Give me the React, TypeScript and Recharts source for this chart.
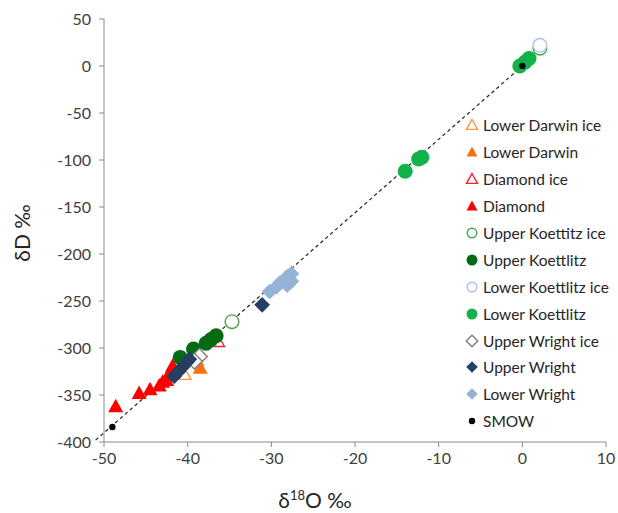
import React from "react";
import { ScatterChart, Scatter, XAxis, YAxis, ReferenceLine } from "recharts";

const xTicks = [-50, -40, -30, -20, -10, 0, 10];
const yTicks = [50, 0, -50, -100, -150, -200, -250, -300, -350, -400];

const lowerDarwinIce = [
  { x: -40.5, y: -327 },
  { x: -39.0, y: -312 },
];
const lowerDarwin = [{ x: -38.5, y: -321 }];
const diamondIce = [{ x: -36.5, y: -292 }];
const diamond = [
  { x: -48.6, y: -362 },
  { x: -45.8, y: -348 },
  { x: -44.5, y: -344 },
  { x: -43.4, y: -340 },
  { x: -43.0, y: -336 },
  { x: -42.5, y: -334 },
  { x: -42.1, y: -325 },
  { x: -41.8, y: -319 },
];
const upperKoettitzIce = [
  { x: -34.7, y: -272 },
  { x: 2.1, y: 19 },
];
const upperKoettlitz = [
  { x: -40.9, y: -310 },
  { x: -39.3, y: -301 },
  { x: -37.8, y: -295 },
  { x: -37.2, y: -291 },
  { x: -36.6, y: -287 },
];
const lowerKoettlitzIce = [{ x: 2.1, y: 22 }];
const lowerKoettlitz = [
  { x: -14.0, y: -112 },
  { x: -12.4, y: -99 },
  { x: -12.0, y: -97 },
  { x: -0.3, y: 0 },
  { x: 0.3, y: 4 },
  { x: 0.8, y: 8 },
];
const upperWrightIce = [
  { x: -38.6, y: -309 },
  { x: -39.2, y: -314 },
];
const upperWright = [
  { x: -41.6, y: -330 },
  { x: -41.1, y: -325 },
  { x: -40.6, y: -320 },
  { x: -40.1, y: -315 },
  { x: -39.8, y: -312 },
  { x: -31.1, y: -254 },
];
const lowerWright = [
  { x: -30.2, y: -240 },
  { x: -29.4, y: -235 },
  { x: -29.0, y: -231 },
  { x: -28.1, y: -233 },
  { x: -27.6, y: -229 },
  { x: -27.6, y: -221 },
  { x: -28.1, y: -224 },
];
const smow = [
  { x: 0, y: 0 },
  { x: -49, y: -384 },
];

// meteoric water line end points
const mwl = [
  { x: -51, y: -398 },
  { x: 0, y: 0 },
];

type Kind = "tri" | "circle" | "diamond" | "dot";

const series: { name: string; data: { x: number; y: number }[]; kind: Kind; color: string; open: boolean }[] = [
  { name: "Lower Darwin ice", data: lowerDarwinIce, kind: "tri", color: "#F79646", open: true },
  { name: "Lower Darwin", data: lowerDarwin, kind: "tri", color: "#F5730F", open: false },
  { name: "Diamond ice", data: diamondIce, kind: "tri", color: "#FF2020", open: true },
  { name: "Diamond", data: diamond, kind: "tri", color: "#FF0000", open: false },
  { name: "Upper Koettitz ice", data: upperKoettitzIce, kind: "circle", color: "#4EA24E", open: true },
  { name: "Upper Koettlitz", data: upperKoettlitz, kind: "circle", color: "#066A12", open: false },
  { name: "Lower Koettlitz ice", data: lowerKoettlitzIce, kind: "circle", color: "#A9C3EA", open: true },
  { name: "Lower Koettlitz", data: lowerKoettlitz, kind: "circle", color: "#12B24A", open: false },
  { name: "Upper Wright ice", data: upperWrightIce, kind: "diamond", color: "#7F7F7F", open: true },
  { name: "Upper Wright", data: upperWright, kind: "diamond", color: "#243F60", open: false },
  { name: "Lower Wright", data: lowerWright, kind: "diamond", color: "#95B3D7", open: false },
  { name: "SMOW", data: smow, kind: "dot", color: "#000000", open: false },
];

function Marker({ cx, cy, kind, color, open, s = 7.5 }: any) {
  const fill = open ? "#fff" : color;
  const sw = open ? 1.4 : 0;
  if (kind === "tri") {
    const pts = `${cx},${cy - s} ${cx + s},${cy + s * 0.8} ${cx - s},${cy + s * 0.8}`;
    return <polygon points={pts} fill={fill} stroke={color} strokeWidth={sw} />;
  }
  if (kind === "circle") {
    return <circle cx={cx} cy={cy} r={s - (open ? 0.7 : 0)} fill={fill} stroke={color} strokeWidth={sw} />;
  }
  if (kind === "diamond") {
    const d = s * 1.05;
    const pts = `${cx},${cy - d} ${cx + d},${cy} ${cx},${cy + d} ${cx - d},${cy}`;
    return <polygon points={pts} fill={fill} stroke={color} strokeWidth={sw} />;
  }
  return <circle cx={cx} cy={cy} r={3.2} fill={color} />;
}

const font = "Lato, 'Open Sans', sans-serif";

export default function App() {
  return (
    <div style={{ position: "relative", width: 618, height: 513, fontFamily: font, overflow: "hidden", background: "#fff" }}>
      <style>{`body{margin:0;overflow:hidden}`}</style>
      <ScatterChart width={618} height={513} margin={{ top: 19, right: 12, left: 0, bottom: 31 }}>
        <XAxis
          type="number"
          dataKey="x"
          domain={[-50, 10]}
          ticks={xTicks}
          height={40}
          tickSize={5}
          tickMargin={6}
          stroke="#8a8a8a"
          tick={{ fill: "#404040", fontSize: 16, fontFamily: font }}
        />
        <YAxis
          type="number"
          dataKey="y"
          domain={[-400, 50]}
          ticks={yTicks}
          width={104}
          tickSize={5}
          tickMargin={8}
          stroke="#8a8a8a"
          tick={{ fill: "#404040", fontSize: 16, fontFamily: font }}
        />
        <ReferenceLine
          segment={mwl}
          stroke="#222"
          strokeWidth={1.2}
          strokeDasharray="3.5 3"
          ifOverflow="visible"
        />
        {series.map((s) => (
          <Scatter
            key={s.name}
            name={s.name}
            data={s.data}
            isAnimationActive={false}
            shape={(p: any) => <Marker cx={p.cx} cy={p.cy} kind={s.kind} color={s.color} open={s.open} />}
          />
        ))}
      </ScatterChart>
      <div
        style={{
          position: "absolute",
          left: 21,
          top: 233,
          transform: "translate(-50%,-50%) rotate(-90deg)",
          fontSize: 21,
          color: "#262626",
          whiteSpace: "nowrap",
        }}
      >
        δD ‰
      </div>
      <div
        style={{
          position: "absolute",
          left: 315,
          top: 487,
          transform: "translateX(-50%)",
          fontSize: 21,
          color: "#262626",
          whiteSpace: "nowrap",
        }}
      >
        δ<sup style={{ fontSize: 13 }}>18</sup>O ‰
      </div>
      <div style={{ position: "absolute", left: 464, top: 112 }}>
        {series.map((s) => (
          <div key={s.name} style={{ display: "flex", alignItems: "center", height: 26.9, fontSize: 15.5, color: "#262626" }}>
            <svg width={16} height={16} style={{ marginRight: 3 }}>
              <Marker cx={8} cy={8} kind={s.kind} color={s.color} open={s.open} s={5.5} />
            </svg>
            <span style={{ whiteSpace: "nowrap" }}>{s.name}</span>
          </div>
        ))}
      </div>
    </div>
  );
}
